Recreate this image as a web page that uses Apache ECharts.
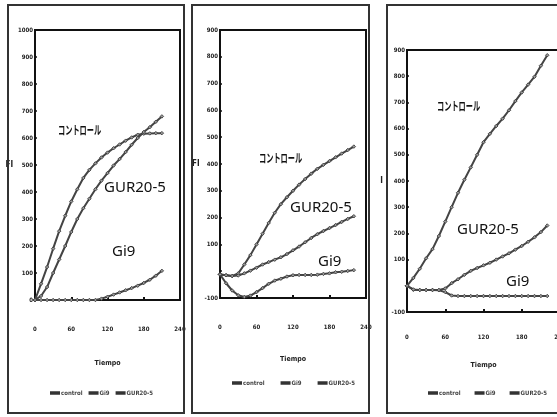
<!DOCTYPE html>
<html>
<head>
<meta charset="utf-8">
<script src="https://cdn.jsdelivr.net/npm/echarts@6/dist/echarts.min.js"></script>
<style>html,body{margin:0;padding:0;background:#fff}#c{width:557px;height:417px}</style>
</head>
<body>
<div id="c"></div>
<script>
// ---- data ----
const seriesNames = ['control', 'Gi9', 'GUR20-5'];
const xTicks = [0, 60, 120, 180, 240];

// Panel A
const timeA = [0,10,20,30,40,50,60,70,80,90,100,110,120,130,140,150,160,170,180,190,200,210];
const controlA = [0,60,122,190,255,312,365,410,452,482,506,528,546,562,576,590,602,612,616,617,618,618];
const gi9A =     [0,0,0,0,0,0,0,0,0,0,0,5,12,20,28,36,44,53,63,75,90,108];
const gurA =     [0,15,48,100,150,200,252,300,340,375,410,442,470,498,522,548,575,600,622,640,660,680];

// Panel B
const timeB = [0,10,20,30,40,50,60,70,80,90,100,110,120,130,140,150,160,170,180,190,200,210,220];
const controlB = [-12,-15,-18,-8,25,60,100,140,180,218,250,276,300,323,344,364,382,397,411,425,439,452,465];
const gi9B =     [-12,-45,-72,-90,-96,-91,-78,-63,-47,-35,-28,-20,-15,-14,-14,-14,-13,-10,-8,-4,-2,1,4];
const gurB =     [-12,-15,-18,-16,-8,2,13,25,34,43,52,64,78,92,108,124,138,150,161,172,184,195,205];

// Panel C
const timeC = [0,10,20,30,40,50,60,70,80,90,100,110,120,130,140,150,160,170,180,190,200,210,220];
const controlC = [0,30,65,105,140,190,245,300,355,405,452,500,548,580,610,638,670,705,738,768,798,840,880];
const gi9C =     [0,-15,-16,-16,-16,-17,-24,-37,-39,-39,-39,-39,-39,-39,-39,-39,-39,-39,-39,-39,-39,-39,-39];
const gurC =     [0,-14,-16,-16,-16,-16,-10,10,25,42,57,68,78,88,100,112,124,138,152,168,185,205,230];

const yTicksA = {min: 0, max: 1000, interval: 100};
const yTicksBC = {min: -100, max: 900, interval: 100};

// ---- chart ----
const pair = (t, v) => t.map((x, i) => [x, v[i]]);
const FONT = '"DejaVu Sans Condensed", "Liberation Sans", sans-serif';
const tickFont = {fontFamily: FONT, fontWeight: 'bold', fontSize: 6, color: '#222'};

const grids = [
  {left: 35, top: 30, width: 145, height: 270},
  {left: 220, top: 30, width: 146, height: 268},
  {left: 407, top: 50, width: 153, height: 262}
];
const xLabelMargin = [26, 26, 22];
const xNameGap = [60, 58, 50];

const xAxes = grids.map((g, i) => ({
  type: 'value', gridIndex: i, min: xTicks[0], max: xTicks[xTicks.length - 1], interval: 60,
  axisLine: {onZero: false, lineStyle: {color: '#111', width: 2}},
  axisTick: {inside: true, length: 3, lineStyle: {color: '#111', width: 2}},
  axisLabel: Object.assign({margin: xLabelMargin[i], showMaxLabel: true}, tickFont),
  splitLine: {show: false},
  name: 'Tiempo', nameLocation: 'middle', nameGap: xNameGap[i],
  nameTextStyle: {fontFamily: FONT, fontWeight: 'bold', fontSize: 7, color: '#222'}
}));

const yAxes = grids.map((g, i) => {
  const r = i === 0 ? yTicksA : yTicksBC;
  return {
    type: 'value', gridIndex: i, min: r.min, max: r.max, interval: r.interval,
    axisLine: {show: true, onZero: false, lineStyle: {color: '#111', width: 2}},
    axisTick: {show: true, inside: true, length: 2, lineStyle: {color: '#111', width: 1.5}},
    axisLabel: Object.assign({margin: 2, formatter: v => (i > 0 && v === 0) ? '' : String(v)}, tickFont),
    splitLine: {show: false},
    name: i === 2 ? 'I' : 'FI', nameLocation: 'middle', nameRotate: 0,
    nameGap: [20, 18, 24][i],
    nameTextStyle: {fontFamily: FONT, fontWeight: 'bold', fontSize: 8, color: '#222'}
  };
});

function mk(name, t, v, idx) {
  return {
    name: name, type: 'line', xAxisIndex: idx, yAxisIndex: idx,
    data: pair(t, v), smooth: false, animation: false,
    showSymbol: true, symbol: 'diamond', symbolSize: 3.5,
    lineStyle: {color: '#444', width: 2},
    itemStyle: {color: '#999', borderColor: '#333', borderWidth: 0.8}
  };
}

const series = [
  mk('control', timeA, controlA, 0), mk('Gi9', timeA, gi9A, 0), mk('GUR20-5', timeA, gurA, 0),
  mk('control', timeB, controlB, 1), mk('Gi9', timeB, gi9B, 1), mk('GUR20-5', timeB, gurB, 1),
  mk('control', timeC, controlC, 2), mk('Gi9', timeC, gi9C, 2), mk('GUR20-5', timeC, gurC, 2)
];

const legendPos = [{left: 50, top: 390, gap: 6}, {left: 232, top: 380, gap: 16}, {left: 428, top: 390, gap: 14}];
const legends = legendPos.map(p => ({
  data: seriesNames, left: p.left, top: p.top, width: 400, orient: 'horizontal',
  icon: 'rect', itemWidth: 8, itemHeight: 1.5, padding: 0,
  itemGap: p.gap, textStyle: {fontSize: 6, color: '#444', fontWeight: 'bold', fontFamily: FONT, padding: [0, 0, 0, -3]},
  selectedMode: false
}));

const frame = (x, y, w, h) => ({type: 'rect', shape: {x, y, width: w, height: h},
  style: {fill: 'none', stroke: '#333', lineWidth: 2}, z: 10});
const jp = (x, y) => ({type: 'text', x, y, scaleX: 0.6, style: {text: 'コントロール',
  font: 'bold 12px "Noto Sans CJK JP"', fill: '#111'}, z: 20});
const lab = (txt, x, y) => ({type: 'text', x, y, style: {text: txt,
  font: '15px "Noto Sans"', fill: '#111'}, z: 20});

const graphic = [
  frame(8, 5, 176, 408), frame(192, 5, 177, 408), frame(387, 5, 180, 408),
  jp(58, 124), lab('GUR20-5', 104, 180), lab('Gi9', 112, 244),
  jp(259, 152), lab('GUR20-5', 290, 200), lab('Gi9', 318, 254),
  jp(437, 100), lab('GUR20-5', 457, 222), lab('Gi9', 506, 274)
];

const chart = echarts.init(document.getElementById('c'), null, {renderer: 'canvas'});
chart.setOption({
  animation: false,
  backgroundColor: '#fff',
  grid: grids.map(g => Object.assign({show: true, borderColor: '#111', borderWidth: 2,
    backgroundColor: 'transparent', outerBoundsMode: 'none', containLabel: false}, g)),
  xAxis: xAxes, yAxis: yAxes, series: series, legend: legends, graphic: graphic
});
</script>
</body>
</html>
